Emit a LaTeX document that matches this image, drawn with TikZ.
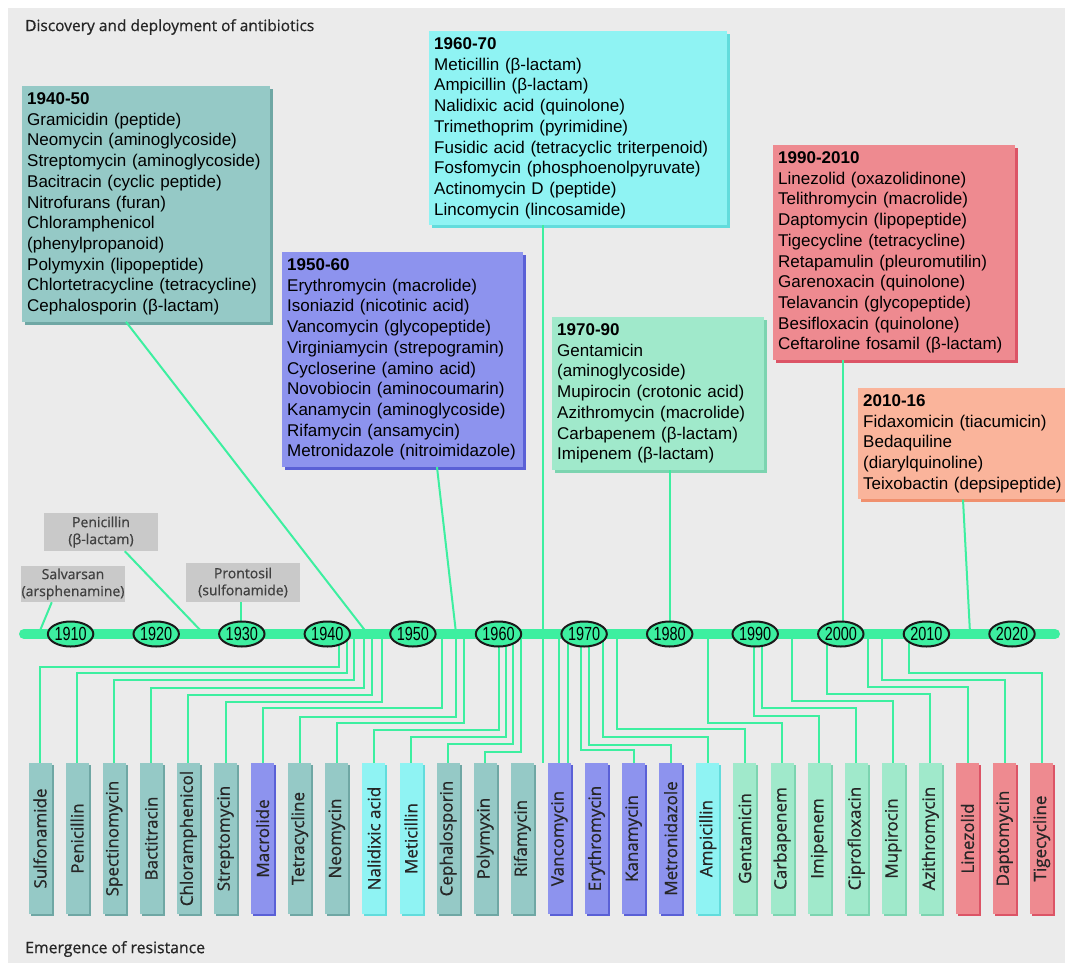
\documentclass[tikz,border=0pt]{standalone}
\usepackage{fontspec}
\setmainfont{Liberation Sans}
\newfontfamily\labelfont{Open Sans}[FakeBold=0.7]
\newfontfamily\yearfont{Liberation Sans}[FakeStretch=0.76]
\usepackage{xcolor}
\usepackage{graphicx}
\usepackage{tikz}
\usetikzlibrary{positioning,shapes.geometric,shadows}

\definecolor{panel}{HTML}{EBEBEB}
\definecolor{stem}{HTML}{3DEFA0}
\definecolor{tealbox}{HTML}{95C9C6}
\definecolor{tealshd}{HTML}{6FA7A4}
\definecolor{bluebox}{HTML}{8D93EE}
\definecolor{blueshd}{HTML}{5A60D6}
\definecolor{cyanbox}{HTML}{8FF3F3}
\definecolor{cyanshd}{HTML}{62DCDC}
\definecolor{mintbox}{HTML}{A0E9CB}
\definecolor{mintshd}{HTML}{7CD4B0}
\definecolor{redbox}{HTML}{EE8A90}
\definecolor{redshd}{HTML}{DC5466}
\definecolor{salmbox}{HTML}{FAB49B}
\definecolor{salmshd}{HTML}{F0906E}
\definecolor{oldbox}{HTML}{C9C9C9}

\begin{document}
\begin{tikzpicture}[x=1pt, y=-1pt,
	era/.style 2 args={anchor=north west, fill=#1, drop shadow={shadow xshift=3pt, shadow yshift=-3pt, fill=#2, opacity=1}, inner xsep=5pt, inner ysep=6.5pt, align=left, font=\fontsize{17}{20.7}\selectfont},
	bar/.style 2 args={fill=#1, drop shadow={shadow xshift=2pt, shadow yshift=-2pt, fill=#2, opacity=1}, minimum width=23pt, minimum height=151pt, inner sep=0pt, outer sep=0pt, font=\labelfont\fontsize{17}{17}\selectfont, text=black!85},
	old/.style={fill=oldbox, text=black!75, align=center, inner sep=0pt, font=\labelfont\fontsize{14}{17}\selectfont},
	year/.style={ellipse, draw=black!90, line width=2pt, fill=stem, minimum width=42pt, minimum height=25pt, inner sep=0pt, font=\yearfont\fontsize{19}{19}\selectfont},
	link/.style={draw=stem, line width=2pt}]
	\useasboundingbox (0,0) rectangle (1065,967);
	\fill[white] (0,0) rectangle (1065,967);
	\fill[panel] (8,8) rectangle (1065,963);

	% decades of discovery
	\node[era={tealbox}{tealshd}, text width=238pt] (b4050) at (22,86) {\textbf{1940-50}\\Gramicidin (peptide)\\Neomycin (aminoglycoside)\\Streptomycin (aminoglycoside)\\Bacitracin (cyclic peptide)\\Nitrofurans (furan)\\Chloramphenicol\\(phenylpropanoid)\\Polymyxin (lipopeptide)\\Chlortetracycline (tetracycline)\\Cephalosporin (β-lactam)};
	\node[era={bluebox}{blueshd}, text width=231pt] (b5060) at (282,252) {\textbf{1950-60}\\Erythromycin (macrolide)\\Isoniazid (nicotinic acid)\\Vancomycin (glycopeptide)\\Virginiamycin (strepogramin)\\Cycloserine (amino acid)\\Novobiocin (aminocoumarin)\\Kanamycin (aminoglycoside)\\Rifamycin (ansamycin)\\Metronidazole (nitroimidazole)};
	\node[era={cyanbox}{cyanshd}, text width=288pt] (b6070) at (429,31) {\textbf{1960-70}\\Meticillin (β-lactam)\\Ampicillin (β-lactam)\\Nalidixic acid (quinolone)\\Trimethoprim (pyrimidine)\\Fusidic acid (tetracyclic triterpenoid)\\Fosfomycin (phosphoenolpyruvate)\\Actinomycin D (peptide)\\Lincomycin (lincosamide)};
	\node[era={mintbox}{mintshd}, text width=202pt] (b7090) at (552,317) {\textbf{1970-90}\\Gentamicin\\(aminoglycoside)\\Mupirocin (crotonic acid)\\Azithromycin (macrolide)\\Carbapenem (β-lactam)\\Imipenem (β-lactam)};
	\node[era={redbox}{redshd}, text width=232pt] (b9010) at (773,145) {\textbf{1990-2010}\\Linezolid (oxazolidinone)\\Telithromycin (macrolide)\\Daptomycin (lipopeptide)\\Tigecycline (tetracycline)\\Retapamulin (pleuromutilin)\\Garenoxacin (quinolone)\\Telavancin (glycopeptide)\\Besifloxacin (quinolone)\\Ceftaroline fosamil (β-lactam)};
	\node[era={salmbox}{salmshd}, text width=204pt] (b1016) at (858,388) {\textbf{2010-16}\\Fidaxomicin (tiacumicin)\\Bedaquiline\\(diarylquinoline)\\Teixobactin (depsipeptide)};

	% early drugs
	\node[old, minimum width=114pt, minimum height=38pt] (peni) at (101,532) {Penicillin\\(β-lactam)};
	\node[old, minimum width=104pt, minimum height=36pt] (salv) at (73,584) {Salvarsan\\(arsphenamine)};
	\node[old, minimum width=114pt, minimum height=39pt] (pron) at (243,582.5) {Prontosil\\(sulfonamide)};

	% emergence of resistance
	\node[bar={tealbox}{tealshd}, anchor=north] (sulf) at (40,763) {\rotatebox{90}{Sulfonamide}};
	\node[bar={tealbox}{tealshd}, right=14.1pt of sulf] (penr) {\rotatebox{90}{Penicillin}};
	\node[bar={tealbox}{tealshd}, right=14.1pt of penr] (spec) {\rotatebox{90}{Spectinomycin}};
	\node[bar={tealbox}{tealshd}, right=14.1pt of spec] (bact) {\rotatebox{90}{Bactitracin}};
	\node[bar={tealbox}{tealshd}, right=14.1pt of bact] (chlo) {\rotatebox{90}{Chloramphenicol}};
	\node[bar={tealbox}{tealshd}, right=14.1pt of chlo] (strp) {\rotatebox{90}{Streptomycin}};
	\node[bar={bluebox}{blueshd}, right=14.1pt of strp] (macr) {\rotatebox{90}{Macrolide}};
	\node[bar={tealbox}{tealshd}, right=14.1pt of macr] (tetr) {\rotatebox{90}{Tetracycline}};
	\node[bar={tealbox}{tealshd}, right=14.1pt of tetr] (neom) {\rotatebox{90}{Neomycin}};
	\node[bar={cyanbox}{cyanshd}, right=14.1pt of neom] (nali) {\rotatebox{90}{Nalidixic acid}};
	\node[bar={cyanbox}{cyanshd}, right=14.1pt of nali] (meti) {\rotatebox{90}{Meticillin}};
	\node[bar={tealbox}{tealshd}, right=14.1pt of meti] (ceph) {\rotatebox{90}{Cephalosporin}};
	\node[bar={tealbox}{tealshd}, right=14.1pt of ceph] (poly) {\rotatebox{90}{Polymyxin}};
	\node[bar={tealbox}{tealshd}, right=14.1pt of poly] (rifa) {\rotatebox{90}{Rifamycin}};
	\node[bar={bluebox}{blueshd}, right=14.1pt of rifa] (vanc) {\rotatebox{90}{Vancomycin}};
	\node[bar={bluebox}{blueshd}, right=14.1pt of vanc] (eryt) {\rotatebox{90}{Erythromycin}};
	\node[bar={bluebox}{blueshd}, right=14.1pt of eryt] (kana) {\rotatebox{90}{Kanamycin}};
	\node[bar={bluebox}{blueshd}, right=14.1pt of kana] (metr) {\rotatebox{90}{Metronidazole}};
	\node[bar={cyanbox}{cyanshd}, right=14.1pt of metr] (ampi) {\rotatebox{90}{Ampicillin}};
	\node[bar={mintbox}{mintshd}, right=14.1pt of ampi] (gent) {\rotatebox{90}{Gentamicin}};
	\node[bar={mintbox}{mintshd}, right=14.1pt of gent] (carb) {\rotatebox{90}{Carbapenem}};
	\node[bar={mintbox}{mintshd}, right=14.1pt of carb] (imip) {\rotatebox{90}{Imipenem}};
	\node[bar={mintbox}{mintshd}, right=14.1pt of imip] (cipr) {\rotatebox{90}{Ciprofloxacin}};
	\node[bar={mintbox}{mintshd}, right=14.1pt of cipr] (mupi) {\rotatebox{90}{Mupirocin}};
	\node[bar={mintbox}{mintshd}, right=14.1pt of mupi] (azit) {\rotatebox{90}{Azithromycin}};
	\node[bar={redbox}{redshd}, right=14.1pt of azit] (line) {\rotatebox{90}{Linezolid}};
	\node[bar={redbox}{redshd}, right=14.1pt of line] (dapt) {\rotatebox{90}{Daptomycin}};
	\node[bar={redbox}{redshd}, right=14.1pt of dapt] (tige) {\rotatebox{90}{Tigecycline}};

	% where the lines meet the time axis
	\coordinate (k4050) at (367,633);
	\coordinate (k5060) at (456,633);
	\coordinate (k6070) at (543,763);
	\coordinate (k7090) at (670,633);
	\coordinate (k9010) at (843,633);
	\coordinate (k1016) at (970,633);
	\coordinate (kpeni) at (203,633);
	\coordinate (ksalv) at (39,633);
	\coordinate (kpron) at (241,633);
	\draw[link] ([xshift=104pt]b4050.south west) -- (k4050);
	\draw[link] ([xshift=155pt]b5060.south west) -- (k5060);
	\draw[link] (b6070.south -| k6070) -- (k6070);
	\draw[link] (b7090.south -| k7090) -- (k7090);
	\draw[link] (b9010.south -| k9010) -- (k9010);
	\draw[link] ([xshift=105pt]b1016.south west) -- (k1016);
	\draw[link] ([xshift=81pt]peni.south west) -- (kpeni);
	\draw[link] ([xshift=31pt]salv.south west) -- (ksalv);
	\draw[link] (pron.south -| kpron) -- (kpron);

	\coordinate (dsulf) at (339.3,634);
	\coordinate (dpenr) at (346.7,634);
	\coordinate (dspec) at (354.0,634);
	\coordinate (dbact) at (364.3,634);
	\coordinate (dchlo) at (371.7,634);
	\coordinate (dstrp) at (382.3,634);
	\coordinate (dmacr) at (442.3,634);
	\coordinate (dtetr) at (455.7,634);
	\coordinate (dneom) at (464.0,634);
	\coordinate (dnali) at (499.3,634);
	\coordinate (dmeti) at (506.0,634);
	\coordinate (dceph) at (513.3,634);
	\coordinate (dpoly) at (520.7,634);
	\coordinate (dvanc) at (559.3,634);
	\coordinate (dvanx) at (568.3,634);
	\coordinate (dkana) at (581.0,634);
	\coordinate (dmetr) at (589.3,634);
	\coordinate (dampi) at (603.3,634);
	\coordinate (dgent) at (617.3,634);
	\coordinate (dcarb) at (707.7,634);
	\coordinate (dimip) at (754.3,634);
	\coordinate (dcipr) at (761.7,634);
	\coordinate (dmupi) at (791.7,634);
	\coordinate (dazit) at (826.7,634);
	\coordinate (dline) at (868.3,634);
	\coordinate (ddapt) at (881.7,634);
	\coordinate (dtige) at (909.3,634);
	\draw[link] (dsulf) -- ++(0,32.7) -| (sulf.north);
	\draw[link] (dpenr) -- ++(0,38.7) -| (penr.north);
	\draw[link] (dspec) -- ++(0,46.0) -| (spec.north);
	\draw[link] (dbact) -- ++(0,53.7) -| (bact.north);
	\draw[link] (dchlo) -- ++(0,61.0) -| (chlo.north);
	\draw[link] (dstrp) -- ++(0,67.7) -| (strp.north);
	\draw[link] (dmacr) -- ++(0,74.3) -| (macr.north);
	\draw[link] (dtetr) -- ++(0,82.7) -| (tetr.north);
	\draw[link] (dneom) -- ++(0,89.3) -| (neom.north);
	\draw[link] (dnali) -- ++(0,96.0) -| (nali.north);
	\draw[link] (dmeti) -- ++(0,103.3) -| (meti.north);
	\draw[link] (dceph) -- ++(0,110.0) -| (ceph.north);
	\draw[link] (dpoly) -- ++(0,117.7) -| (poly.north);
	\draw[link] (dvanc) -- (dvanc |- vanc.north);
	\draw[link] (dvanx) -- (dvanx |- vanc.north);
	\draw[link] (dkana) -- ++(0,116.0) -| (kana.north);
	\draw[link] (dmetr) -- ++(0,111.0) -| (metr.north);
	\draw[link] (dampi) -- ++(0,102.7) -| (ampi.north);
	\draw[link] (dgent) -- ++(0,95.3) -| (gent.north);
	\draw[link] (dcarb) -- ++(0,88.7) -| (carb.north);
	\draw[link] (dimip) -- ++(0,82.0) -| (imip.north);
	\draw[link] (dcipr) -- ++(0,74.3) -| (cipr.north);
	\draw[link] (dmupi) -- ++(0,67.0) -| (mupi.north);
	\draw[link] (dazit) -- ++(0,60.0) -| (azit.north);
	\draw[link] (dline) -- ++(0,52.7) -| (line.north);
	\draw[link] (ddapt) -- ++(0,46.0) -| (dapt.north);
	\draw[link] (dtige) -- ++(0,38.7) -| (tige.north);

	% time axis
	\coordinate (tl0) at (24,634);
	\coordinate (tl1) at (1055,634);
	\draw[stem, line width=10pt, line cap=round] (tl0) -- (tl1);
	\node[year] (y1910) at (70.6,634) {1910};
	\node[year] (y1920) at (156.2,634) {1920};
	\node[year] (y1930) at (241.8,634) {1930};
	\node[year] (y1940) at (327.3,634) {1940};
	\node[year] (y1950) at (412.9,634) {1950};
	\node[year] (y1960) at (498.5,634) {1960};
	\node[year] (y1970) at (584.1,634) {1970};
	\node[year] (y1980) at (669.7,634) {1980};
	\node[year] (y1990) at (755.2,634) {1990};
	\node[year] (y2000) at (840.8,634) {2000};
	\node[year] (y2010) at (926.4,634) {2010};
	\node[year] (y2020) at (1012.0,634) {2020};

	\node[anchor=west, inner sep=0pt, text=black!85, font=\labelfont\fontsize{15.5}{18}\selectfont] (title) at (25,27) {Discovery and deployment of antibiotics};
	\node[anchor=west, inner sep=0pt, text=black!85, font=\labelfont\fontsize{15.8}{18}\selectfont] (emerg) at (25,949) {Emergence of resistance};
\end{tikzpicture}
\end{document}
